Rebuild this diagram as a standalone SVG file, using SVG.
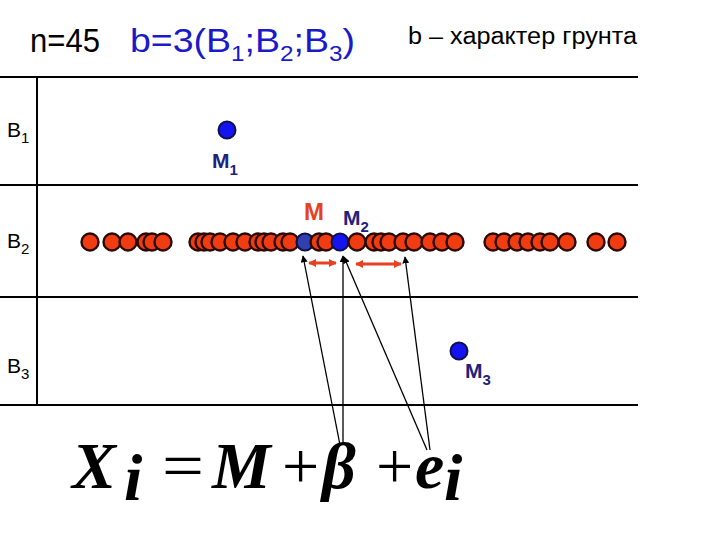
<svg xmlns="http://www.w3.org/2000/svg" width="720" height="540" viewBox="0 0 720 540">
<style>
.ln{stroke:#000;stroke-width:2;fill:none}
.rd{fill:#f03c10;stroke:#2a0a00;stroke-width:2.4}
.bl{fill:#1414f0;stroke:#101050;stroke-width:2}
.db{fill:#3040b0;stroke:#101040;stroke-width:2.2}
.sans{font-family:"Liberation Sans",Arial,sans-serif}
.f{font-family:"Liberation Serif","Times New Roman",serif;font-weight:bold;font-style:italic;font-size:66px;fill:#000}
.op{font-family:"Liberation Serif","Times New Roman",serif;font-size:66px;fill:#000}
.ml{font-family:"Liberation Sans",Arial,sans-serif;font-weight:bold;font-size:21px;fill:#22227a}
.ptr{stroke:#000;stroke-width:1.3;fill:none;marker-end:url(#ah)}
.dar{stroke:#e84020;stroke-width:3;fill:none;marker-start:url(#ra);marker-end:url(#ra)}
</style>
<defs>
<marker id="ah" viewBox="0 0 10 10" refX="9" refY="5" markerWidth="7" markerHeight="7" markerUnits="userSpaceOnUse" orient="auto"><path d="M0,0 L10,5 L0,10 z" fill="#000"/></marker>
<marker id="ra" viewBox="0 0 10 10" refX="9" refY="5" markerWidth="8" markerHeight="8" markerUnits="userSpaceOnUse" orient="auto-start-reverse"><path d="M0,0 L10,5 L0,10 z" fill="#e84020"/></marker>
</defs>
<rect width="720" height="540" fill="#fff"/>
<g id="title">
<text class="sans" x="30" y="52" font-size="34" fill="#000" textLength="70" lengthAdjust="spacingAndGlyphs">n=45</text>
<text class="sans" x="130" y="52" font-size="34" fill="#1a1ac8" textLength="225" lengthAdjust="spacingAndGlyphs">b=3(B<tspan font-size="22" dy="9">1</tspan><tspan dy="-9">;B</tspan><tspan font-size="22" dy="9">2</tspan><tspan dy="-9">;B</tspan><tspan font-size="22" dy="9">3</tspan><tspan dy="-9">)</tspan></text>
<text class="sans" x="408" y="44" font-size="23" fill="#000" textLength="229" lengthAdjust="spacingAndGlyphs">b – характер грунта</text>
</g>
<g id="grid">
<line class="ln" x1="0" y1="77" x2="638" y2="77"/>
<line class="ln" x1="0" y1="185" x2="638" y2="185"/>
<line class="ln" x1="0" y1="297" x2="638" y2="297"/>
<line class="ln" x1="0" y1="405" x2="638" y2="405"/>
<line class="ln" x1="37" y1="77" x2="37" y2="405"/>
</g>
<g id="rowlabels" class="sans" font-size="21" fill="#000">
<text x="7" y="137">B<tspan font-size="15" dy="6">1</tspan></text>
<text x="7" y="248">B<tspan font-size="15" dy="6">2</tspan></text>
<text x="7" y="373">B<tspan font-size="15" dy="6">3</tspan></text>
</g>
<g id="M1">
<circle class="bl" cx="227" cy="130" r="8.5"/>
<text class="ml" x="212" y="168">M<tspan font-size="15" dy="7">1</tspan></text>
</g>
<g id="M3">
<circle class="bl" cx="459" cy="351" r="8.5"/>
<text class="ml" x="465" y="378">M<tspan font-size="15" dy="7">3</tspan></text>
</g>
<g id="row2">
<circle class="rd" cx="90" cy="242" r="8.5"/>
<circle class="rd" cx="112" cy="242" r="8.5"/>
<circle class="rd" cx="128" cy="242" r="8.5"/>
<circle class="rd" cx="146" cy="242" r="8.5"/>
<circle class="rd" cx="152" cy="242" r="8.5"/>
<circle class="rd" cx="163" cy="242" r="8.5"/>
<circle class="rd" cx="198" cy="242" r="8.5"/>
<circle class="rd" cx="204" cy="242" r="8.5"/>
<circle class="rd" cx="210" cy="242" r="8.5"/>
<circle class="rd" cx="220" cy="242" r="8.5"/>
<circle class="rd" cx="233" cy="242" r="8.5"/>
<circle class="rd" cx="245" cy="242" r="8.5"/>
<circle class="rd" cx="258" cy="242" r="8.5"/>
<circle class="rd" cx="264" cy="242" r="8.5"/>
<circle class="rd" cx="271" cy="242" r="8.5"/>
<circle class="rd" cx="283" cy="242" r="8.5"/>
<circle class="rd" cx="290" cy="242" r="8.5"/>
<circle class="db" cx="305" cy="242" r="8.5"/>
<circle class="rd" cx="319" cy="242" r="8.5"/>
<circle class="rd" cx="326" cy="242" r="8.5"/>
<circle class="bl" cx="340" cy="242" r="8.5"/>
<circle class="rd" cx="357" cy="242" r="8.5"/>
<circle class="rd" cx="374" cy="242" r="8.5"/>
<circle class="rd" cx="381" cy="242" r="8.5"/>
<circle class="rd" cx="389" cy="242" r="8.5"/>
<circle class="rd" cx="403" cy="242" r="8.5"/>
<circle class="rd" cx="414" cy="242" r="8.5"/>
<circle class="rd" cx="430" cy="242" r="8.5"/>
<circle class="rd" cx="442" cy="242" r="8.5"/>
<circle class="rd" cx="455" cy="242" r="8.5"/>
<circle class="rd" cx="493" cy="242" r="8.5"/>
<circle class="rd" cx="504" cy="242" r="8.5"/>
<circle class="rd" cx="517" cy="242" r="8.5"/>
<circle class="rd" cx="528" cy="242" r="8.5"/>
<circle class="rd" cx="540" cy="242" r="8.5"/>
<circle class="rd" cx="550" cy="242" r="8.5"/>
<circle class="rd" cx="567" cy="242" r="8.5"/>
<circle class="rd" cx="596" cy="242" r="8.5"/>
<circle class="rd" cx="617" cy="242" r="8.5"/>
</g>
<g id="Mlabels">
<text class="sans" x="304" y="220" font-size="24" font-weight="bold" fill="#e84020">M</text>
<text class="ml" x="343" y="225">M<tspan font-size="15" dy="7">2</tspan></text>
</g>
<g id="connectors">
<line class="dar" x1="309" y1="263" x2="336" y2="263"/>
<line class="dar" x1="356" y1="264" x2="401" y2="264"/>
<line class="ptr" x1="340" y1="445" x2="303" y2="256"/>
<line class="ptr" x1="343" y1="445" x2="343" y2="256"/>
<line class="ptr" x1="427" y1="450" x2="344" y2="257"/>
<line class="ptr" x1="430" y1="450" x2="405" y2="257"/>
</g>
<g id="formula">
<text class="f" x="72" y="488">X</text>
<text class="f" x="124" y="500" font-size="50">i</text>
<text class="op" x="162" y="488" textLength="42" lengthAdjust="spacingAndGlyphs">=</text>
<text class="f" x="212" y="488">M</text>
<text class="op" x="282" y="488">+</text>
<text class="f" x="322" y="488" font-size="74">β</text>
<text class="op" x="376" y="488">+</text>
<text class="f" x="415" y="488">e</text>
<text class="f" x="444" y="500" font-size="50">i</text>
</g>
</svg>
